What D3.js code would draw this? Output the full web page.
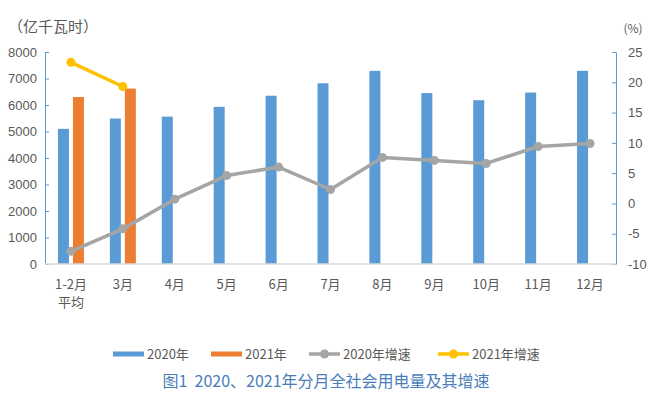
<!DOCTYPE html>
<html>
<head>
<meta charset="utf-8">
<script src="https://cdn.jsdelivr.net/npm/d3@7"></script>
<style>
  body { margin: 0; background: #fff; }
  text { font-family: "Noto Sans CJK SC", "DejaVu Sans", sans-serif; }
</style>
</head>
<body>
<script>
// chart data
var months = ["1-2月平均", "3月", "4月", "5月", "6月", "7月", "8月", "9月", "10月", "11月", "12月"];
var power2020 = [5100, 5490, 5560, 5930, 6350, 6820, 7290, 6450, 6180, 6470, 7290];
var power2021 = [6300, 6620];
var growth2020 = [-7.9, -4.2, 0.7, 4.6, 6.0, 2.3, 7.6, 7.1, 6.6, 9.4, 9.9];
var growth2021 = [23.3, 19.3];
var leftTicks = [0, 1000, 2000, 3000, 4000, 5000, 6000, 7000, 8000];
var rightTicks = [-10, -5, 0, 5, 10, 15, 20, 25];

var width = 651, height = 396;
var plotL = 45, plotR = 616, plotT = 52, plotB = 264;

var svg = d3.select("body").append("svg")
  .attr("width", width)
  .attr("height", height);

var x = d3.scaleBand().domain(months).range([plotL, plotR]);
var yL = d3.scaleLinear().domain([0, 8000]).range([plotB, plotT]);
var yR = d3.scaleLinear().domain([-10, 25]).range([plotB, plotT]);

var barW = 11;
var grey = "#595959";
var plain = function (d) { return String(d); };

// bars
svg.append("g").selectAll("rect")
  .data(power2020)
  .enter().append("rect")
  .attr("x", function (d, i) { return x(months[i]) + x.bandwidth() / 2 - 13; })
  .attr("y", function (d) { return yL(d); })
  .attr("width", barW)
  .attr("height", function (d) { return plotB - yL(d); })
  .attr("fill", "#5b9bd5");

svg.append("g").selectAll("rect")
  .data(power2021)
  .enter().append("rect")
  .attr("x", function (d, i) { return x(months[i]) + x.bandwidth() / 2 + 2; })
  .attr("y", function (d) { return yL(d); })
  .attr("width", barW)
  .attr("height", function (d) { return plotB - yL(d); })
  .attr("fill", "#ed7d31");

// axes
var axisL = svg.append("g")
  .attr("transform", "translate(" + plotL + ",0)")
  .call(d3.axisLeft(yL).tickValues(leftTicks).tickFormat(plain).tickSizeInner(-4).tickSizeOuter(0).tickPadding(8));
axisL.select(".domain").attr("stroke", "#5b9bd5");
axisL.selectAll("line").attr("stroke", "#5b9bd5");
axisL.selectAll("text").attr("fill", grey).style("font-size", "13px")
  .style("font-family", "'Liberation Sans', sans-serif");

var axisR = svg.append("g")
  .attr("transform", "translate(" + plotR + ",0)")
  .call(d3.axisRight(yR).tickValues(rightTicks).tickFormat(plain).tickSizeInner(-4).tickSizeOuter(0).tickPadding(12));
axisR.select(".domain").attr("stroke", "#5b9bd5");
axisR.selectAll("line").attr("stroke", "#5b9bd5");
axisR.selectAll("text").attr("fill", grey).style("font-size", "13px")
  .style("font-family", "'Liberation Sans', sans-serif");

svg.append("line")
  .attr("x1", plotL).attr("x2", plotR)
  .attr("y1", plotB).attr("y2", plotB)
  .attr("stroke", "#d9d9d9").attr("stroke-width", 1.5);

// month labels
var xl = svg.append("g").selectAll("text")
  .data(months)
  .enter().append("text")
  .attr("x", function (d) { return x(d) + x.bandwidth() / 2; })
  .attr("y", 289)
  .attr("text-anchor", "middle")
  .attr("fill", grey)
  .style("font-size", "13px");
xl.each(function (d) {
  var t = d3.select(this);
  if (d.indexOf("平均") > 0) {
    t.append("tspan").attr("x", t.attr("x")).text(d.replace("平均", ""));
    t.append("tspan").attr("x", t.attr("x")).attr("dy", 18).text("平均");
  } else {
    t.text(d);
  }
});

// growth lines
var line = d3.line()
  .x(function (d, i) { return x(months[i]) + x.bandwidth() / 2; })
  .y(function (d) { return yR(d); });

function drawLine(data, color) {
  svg.append("path")
    .datum(data)
    .attr("d", line)
    .attr("fill", "none")
    .attr("stroke", color)
    .attr("stroke-width", 3.5)
    .attr("stroke-linejoin", "round");
  svg.append("g").selectAll("circle")
    .data(data)
    .enter().append("circle")
    .attr("cx", function (d, i) { return x(months[i]) + x.bandwidth() / 2; })
    .attr("cy", function (d) { return yR(d); })
    .attr("r", 4.5)
    .attr("fill", color);
}
drawLine(growth2020, "#a5a5a5");
drawLine(growth2021, "#ffc000");

// axis titles
svg.append("text").attr("x", 8).attr("y", 32).attr("fill", grey)
  .style("font-size", "15px").text("（亿千瓦时）");
svg.append("text").attr("x", 633).attr("y", 33).attr("text-anchor", "middle").attr("fill", grey)
  .style("font-size", "12px").text("(%)");

// legend
var legend = [
  { name: "2020年", color: "#5b9bd5", type: "bar", x: 113 },
  { name: "2021年", color: "#ed7d31", type: "bar", x: 211 },
  { name: "2020年增速", color: "#a5a5a5", type: "line", x: 309 },
  { name: "2021年增速", color: "#ffc000", type: "line", x: 438 }
];
var lg = svg.append("g").selectAll("g")
  .data(legend)
  .enter().append("g")
  .attr("transform", function (d) { return "translate(" + d.x + ",354)"; });
lg.append("line")
  .attr("x1", 0).attr("x2", 31)
  .attr("stroke", function (d) { return d.color; })
  .attr("stroke-width", function (d) { return d.type == "bar" ? 5 : 3.5; });
lg.filter(function (d) { return d.type == "line"; }).append("circle")
  .attr("cx", 15.5).attr("r", 4.5)
  .attr("fill", function (d) { return d.color; });
lg.append("text")
  .attr("x", 34).attr("y", 5)
  .attr("fill", grey)
  .style("font-size", "13px")
  .text(function (d) { return d.name; });

// caption
svg.append("text")
  .attr("x", 326).attr("y", 387)
  .attr("text-anchor", "middle")
  .attr("fill", "#4a7ebb")
  .style("font-size", "16px")
  .style("white-space", "pre")
  .text("图1  2020、2021年分月全社会用电量及其增速");
</script>
</body>
</html>
